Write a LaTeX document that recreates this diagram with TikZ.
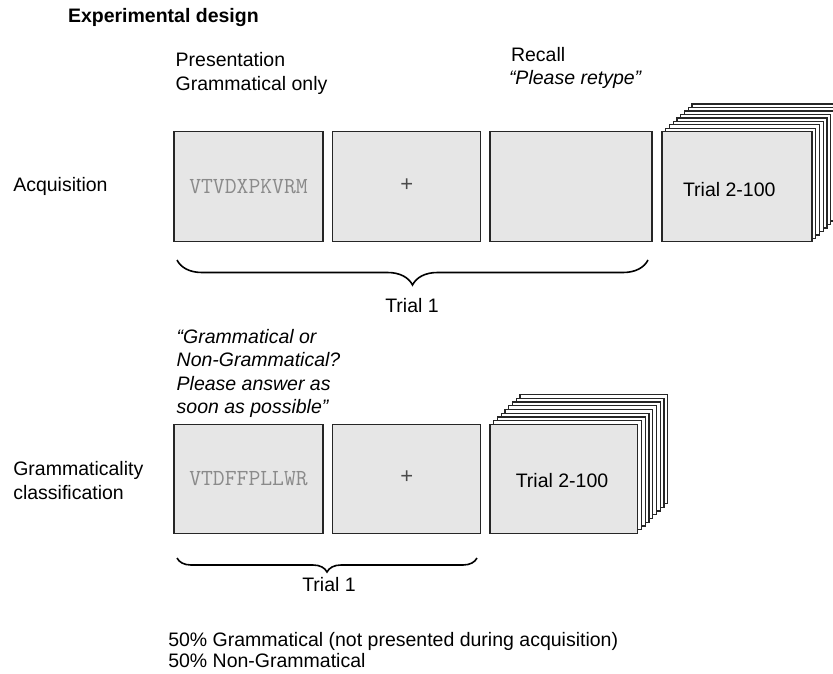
\documentclass[tikz,border=0pt]{standalone}
\usepackage{fontspec}
\setmainfont{Liberation Sans}
\usetikzlibrary{decorations.pathreplacing}
\definecolor{scr}{HTML}{E6E6E6}
\definecolor{edgec}{HTML}{262626}
\definecolor{stimc}{HTML}{8A8A8A}
\definecolor{plusc}{HTML}{4A4A4A}
\begin{document}
\begin{tikzpicture}[x=1pt,y=-1pt,
  every node/.style={inner sep=0pt, outer sep=0pt, font=\fontsize{19.5}{23.5}\selectfont},
  lbl/.style={anchor=base west},
  ilbl/.style={anchor=base west, font=\fontsize{19.5}{23.5}\selectfont\itshape},
  screen/.style={draw=edgec, line width=1.4pt, fill=scr, minimum height=110pt},
  backcard/.style={draw=edgec, line width=1.4pt, fill=white},
  stim/.style={font=\fontsize{23}{27}\selectfont\ttfamily, text=stimc},
  fix/.style={font=\fontsize{22}{26}\selectfont, text=plusc},
  bracebig/.style={decorate, decoration={brace, amplitude=25pt, aspect=0.5}, line width=1.6pt},
  bracesmall/.style={decorate, decoration={brace, amplitude=14pt, aspect=0.5}, line width=1.6pt}
]
\useasboundingbox (0,0) rectangle (833,674);

% title
\node[lbl, font=\fontsize{19.5}{23.5}\selectfont\bfseries] (title) at (68,22.7) {Experimental design};

% ---------------- acquisition row
\node[lbl] (pres1) at (175.7,66.7) {Presentation};
\node[lbl] (pres2) at (175.7,90.5) {Grammatical only};
\node[lbl] (rec1) at (511,61.5) {Recall};
\node[ilbl] (rec2) at (509,85) {“Please retype”};
\node[lbl] (acq) at (13.3,191.7) {Acquisition};

\node[screen, minimum width=149pt] (a1) at (248.5,186.7) {};
\node[stim] (a1t) at (a1) {VTVDXPKVRM};
\node[screen, minimum width=148pt] (a2) at (406.7,186.7) {};
\node[fix] (a2t) at ([yshift=2pt]a2) {+};
\node[screen, minimum width=162pt] (a3) at (571,186.7) {};

\foreach \i in {8,7,...,1}{
  \draw[backcard] (662+3.75*\i,131.7-3.45*\i) rectangle (812+3.75*\i,241.7-3.45*\i);
}
\node[screen, minimum width=150pt] (a4) at (737,186.7) {};
\node[lbl] (a4t) at (683,196.5) {Trial 2-100};

\coordinate (ab1) at (648,260);
\coordinate (ab2) at (177,260);
\draw[bracebig] (ab1) -- (ab2);
\node[anchor=base] (atr) at (412,312.7) {Trial 1};

% ---------------- grammaticality row
\node[ilbl] (q1) at (176.7,343.3) {“Grammatical or};
\node[ilbl] (q2) at (176.7,366.6) {Non-Grammatical?};
\node[ilbl] (q3) at (176.7,390) {Please answer as};
\node[ilbl] (q4) at (176.7,413.3) {soon as possible”};
\node[lbl] (g1) at (13.3,475) {Grammaticality};
\node[lbl] (g2) at (13.3,499.3) {classification};

\node[screen, minimum width=149pt, minimum height=109pt] (b1) at (248.5,478.8) {};
\node[stim] (b1t) at (b1) {VTDFFPLLWR};
\node[screen, minimum width=148pt, minimum height=109pt] (b2) at (406.7,478.8) {};
\node[fix] (b2t) at ([yshift=2pt]b2) {+};

\foreach \i in {8,7,...,1}{
  \draw[backcard] (490+3.75*\i,424.5-3.75*\i) rectangle (637.7+3.75*\i,533.5-3.75*\i);
}
\node[screen, minimum width=147.7pt, minimum height=109pt] (b3) at (563.85,479) {};
\node[anchor=center] (b3t) at (562,481) {Trial 2-100};

\coordinate (bb1) at (477,558);
\coordinate (bb2) at (177,558);
\draw[bracesmall] (bb1) -- (bb2);
\node[anchor=base] (btr) at (329,591.7) {Trial 1};

% bottom notes
\node[lbl] (n1) at (168.3,646) {50\% Grammatical (not presented during acquisition)};
\node[lbl] (n2) at (168.3,667.5) {50\% Non-Grammatical};
\end{tikzpicture}
\end{document}
